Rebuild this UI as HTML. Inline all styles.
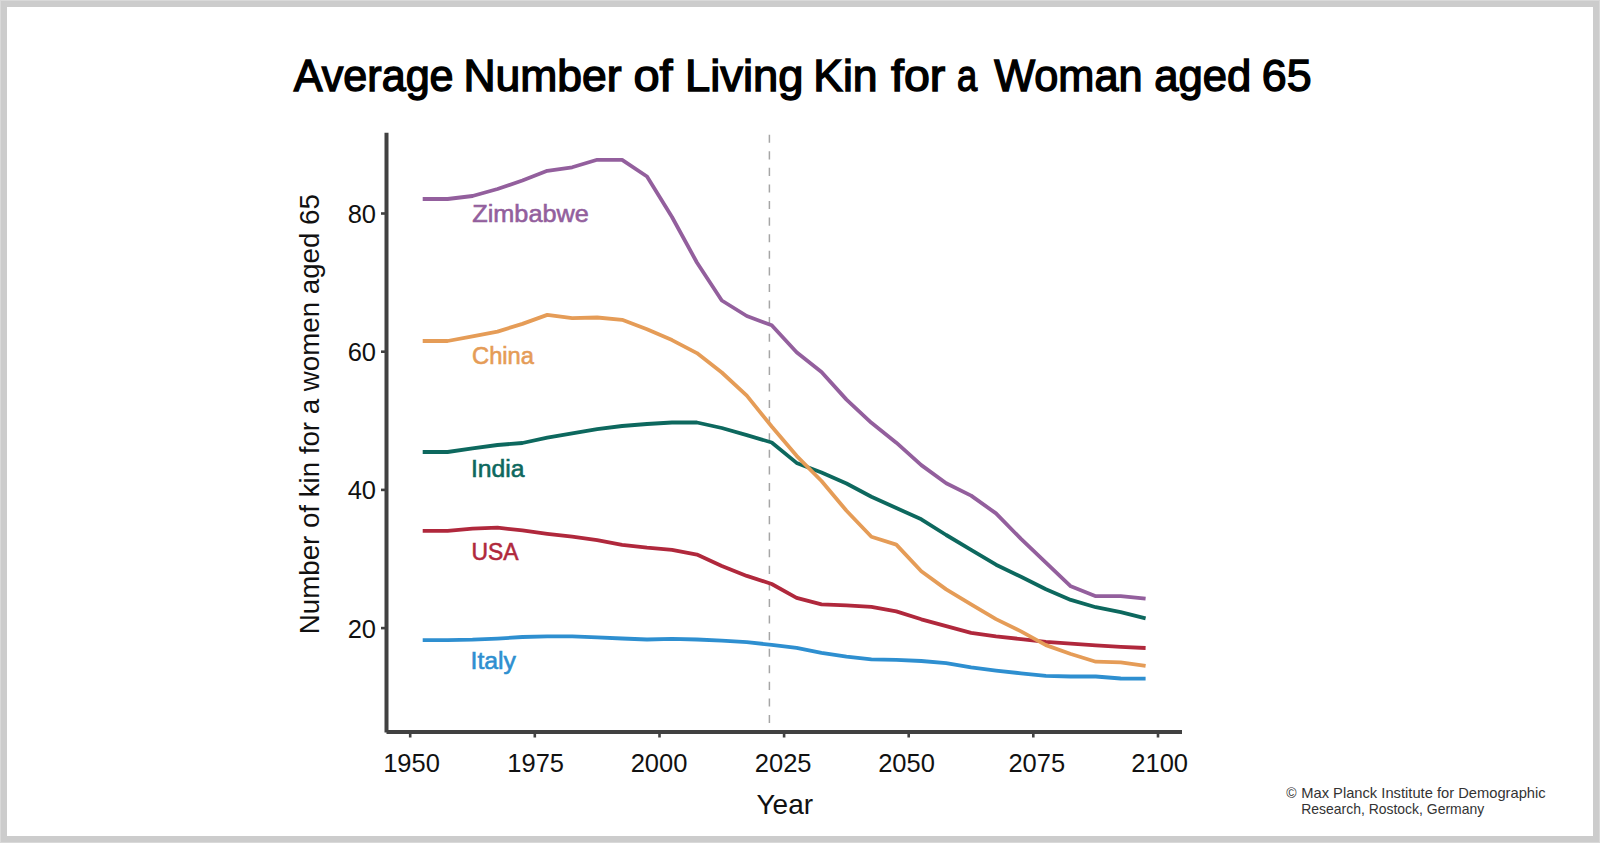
<!DOCTYPE html>
<html><head><meta charset="utf-8"><style>
html,body{margin:0;padding:0;width:1600px;height:843px;overflow:hidden;background:#cbcbcb}
svg{position:absolute;left:0;top:0;font-family:"Liberation Sans",sans-serif}
</style></head><body>
<svg width="1600" height="843" viewBox="0 0 1600 843">
<rect x="0" y="0" width="1600" height="843" fill="#cccccc"/>
<rect x="0.5" y="0.5" width="1599" height="842" fill="none" stroke="#d9d9d9" stroke-width="1"/>
<rect x="7" y="7" width="1586" height="829" fill="#ffffff"/>
<g font-size="44.3" fill="#000" stroke="#000" stroke-width="1.4"><text x="293.80" y="91" textLength="159.80" lengthAdjust="spacingAndGlyphs">Average</text><text x="463.40" y="91" textLength="158.20" lengthAdjust="spacingAndGlyphs">Number</text><text x="633.40" y="91" textLength="39.20" lengthAdjust="spacingAndGlyphs">of</text><text x="685.00" y="91" textLength="118.40" lengthAdjust="spacingAndGlyphs">Living</text><text x="813.20" y="91" textLength="64.40" lengthAdjust="spacingAndGlyphs">Kin</text><text x="891.00" y="91" textLength="54.40" lengthAdjust="spacingAndGlyphs">for</text><text x="957.00" y="91" textLength="20.20" lengthAdjust="spacingAndGlyphs">a</text><text x="994.20" y="91" textLength="148.40" lengthAdjust="spacingAndGlyphs">Woman</text><text x="1154.20" y="91" textLength="97.00" lengthAdjust="spacingAndGlyphs">aged</text><text x="1261.80" y="91" textLength="49.80" lengthAdjust="spacingAndGlyphs">65</text></g>
<line x1="769.4" y1="134.7" x2="769.4" y2="724" stroke="#a6a6a6" stroke-width="1.5" stroke-dasharray="8.1 8.48"/>
<polyline points="422.7,640.2 447.6,640.2 472.5,639.7 497.5,638.6 522.4,637.0 547.3,636.3 572.2,636.3 597.2,637.4 622.1,638.5 647.0,639.5 672.0,638.9 696.9,639.5 721.8,640.6 746.8,642.1 771.7,644.9 796.6,647.9 821.5,652.8 846.5,656.7 871.4,659.3 896.3,659.9 921.3,661.0 946.2,663.1 971.1,667.4 996.0,670.6 1021.0,673.3 1045.9,675.9 1070.8,676.5 1095.8,676.5 1120.7,678.5 1145.6,678.6" fill="none" stroke="#2e8fd0" stroke-width="3.8" stroke-linejoin="round"/>
<polyline points="422.7,530.9 447.6,530.9 472.5,528.6 497.5,527.7 522.4,530.4 547.3,533.8 572.2,536.7 597.2,540.1 622.1,544.9 647.0,547.7 672.0,549.9 696.9,554.6 721.8,565.9 746.8,575.9 771.7,584.0 796.6,597.9 821.5,604.4 846.5,605.4 871.4,606.9 896.3,611.4 921.3,619.3 946.2,626.2 971.1,632.8 996.0,636.3 1021.0,639.1 1045.9,641.8 1070.8,643.7 1095.8,645.4 1120.7,646.9 1145.6,648.0" fill="none" stroke="#b0283c" stroke-width="3.8" stroke-linejoin="round"/>
<polyline points="422.7,452.0 447.6,452.0 472.5,448.3 497.5,445.0 522.4,443.0 547.3,437.6 572.2,433.4 597.2,429.1 622.1,426.0 647.0,424.0 672.0,422.5 696.9,422.5 721.8,428.0 746.8,435.1 771.7,442.5 796.6,462.9 821.5,472.5 846.5,483.5 871.4,496.7 896.3,508.0 921.3,519.3 946.2,535.0 971.1,549.9 996.0,564.7 1021.0,576.8 1045.9,589.2 1070.8,599.9 1095.8,607.2 1120.7,612.2 1145.6,618.3" fill="none" stroke="#0d685e" stroke-width="3.8" stroke-linejoin="round"/>
<polyline points="422.7,341.0 447.6,341.0 472.5,336.3 497.5,331.6 522.4,323.9 547.3,314.9 572.2,318.1 597.2,317.5 622.1,319.8 647.0,329.3 672.0,340.1 696.9,353.1 721.8,372.5 746.8,395.6 771.7,426.5 796.6,455.8 821.5,481.0 846.5,510.8 871.4,536.7 896.3,544.6 921.3,571.3 946.2,589.4 971.1,604.4 996.0,619.1 1021.0,631.4 1045.9,645.1 1070.8,654.0 1095.8,661.7 1120.7,662.3 1145.6,665.8" fill="none" stroke="#e59c57" stroke-width="3.8" stroke-linejoin="round"/>
<polyline points="422.7,199.0 447.6,199.0 472.5,196.0 497.5,189.0 522.4,180.5 547.3,170.8 572.2,167.3 597.2,159.8 622.1,159.8 647.0,176.5 672.0,217.0 696.9,262.5 721.8,300.5 746.8,316.0 771.7,325.3 796.6,352.2 821.5,372.0 846.5,399.6 871.4,422.8 896.3,442.7 921.3,465.1 946.2,483.2 971.1,495.6 996.0,513.4 1021.0,538.9 1045.9,562.6 1070.8,586.3 1095.8,596.2 1120.7,596.2 1145.6,598.7" fill="none" stroke="#935f9d" stroke-width="3.8" stroke-linejoin="round"/>
<line x1="386.5" y1="132.8" x2="386.5" y2="732.5" stroke="#414141" stroke-width="4"/>
<line x1="386.5" y1="732" x2="1182" y2="732" stroke="#414141" stroke-width="4"/>
<line x1="410.2" y1="732" x2="410.2" y2="737.5" stroke="#414141" stroke-width="2.6"/><line x1="534.8" y1="732" x2="534.8" y2="737.5" stroke="#414141" stroke-width="2.6"/><line x1="659.5" y1="732" x2="659.5" y2="737.5" stroke="#414141" stroke-width="2.6"/><line x1="784.1" y1="732" x2="784.1" y2="737.5" stroke="#414141" stroke-width="2.6"/><line x1="908.7" y1="732" x2="908.7" y2="737.5" stroke="#414141" stroke-width="2.6"/><line x1="1033.3" y1="732" x2="1033.3" y2="737.5" stroke="#414141" stroke-width="2.6"/><line x1="1158.0" y1="732" x2="1158.0" y2="737.5" stroke="#414141" stroke-width="2.6"/><line x1="381" y1="213.5" x2="386" y2="213.5" stroke="#414141" stroke-width="2.6"/><line x1="381" y1="351.7" x2="386" y2="351.7" stroke="#414141" stroke-width="2.6"/><line x1="381" y1="489.9" x2="386" y2="489.9" stroke="#414141" stroke-width="2.6"/><line x1="381" y1="628.1" x2="386" y2="628.1" stroke="#414141" stroke-width="2.6"/>
<g font-size="25.5" fill="#111"><text x="411.5" y="771.9" text-anchor="middle">1950</text><text x="535.7" y="771.9" text-anchor="middle">1975</text><text x="659.0" y="771.9" text-anchor="middle">2000</text><text x="783.2" y="771.9" text-anchor="middle">2025</text><text x="906.5" y="771.9" text-anchor="middle">2050</text><text x="1036.8" y="771.9" text-anchor="middle">2075</text><text x="1159.7" y="771.9" text-anchor="middle">2100</text><text x="376" y="222.9" text-anchor="end">80</text><text x="376" y="361.1" text-anchor="end">60</text><text x="376" y="499.3" text-anchor="end">40</text><text x="376" y="637.5" text-anchor="end">20</text></g>
<text x="784.8" y="814.4" font-size="28" text-anchor="middle" fill="#111">Year</text>
<text transform="translate(318.5,414.2) rotate(-90)" x="0" y="0" font-size="28" text-anchor="middle" fill="#111" textLength="440" lengthAdjust="spacingAndGlyphs">Number of kin for a women aged 65</text>
<g font-size="24.6" stroke-width="0.6">
<text x="472.3" y="222" fill="#935f9d" stroke="#935f9d" textLength="116.5" lengthAdjust="spacingAndGlyphs">Zimbabwe</text>
<text x="472" y="364.4" fill="#e59c57" stroke="#e59c57" textLength="62" lengthAdjust="spacingAndGlyphs">China</text>
<text x="471" y="476.6" fill="#0d685e" stroke="#0d685e" textLength="53.5" lengthAdjust="spacingAndGlyphs">India</text>
<text x="471.5" y="559.9" fill="#b0283c" stroke="#b0283c" textLength="47" lengthAdjust="spacingAndGlyphs">USA</text>
<text x="470.5" y="668.9" fill="#2e8fd0" stroke="#2e8fd0" textLength="45.5" lengthAdjust="spacingAndGlyphs">Italy</text>
</g>
<g font-size="15" fill="#333">
<text x="1286.3" y="798.1" font-size="14">©</text>
<text x="1301.2" y="798.1" textLength="244.5" lengthAdjust="spacingAndGlyphs">Max Planck Institute for Demographic</text>
<text x="1301.2" y="814" textLength="183" lengthAdjust="spacingAndGlyphs">Research, Rostock, Germany</text>
</g>
</svg>
</body></html>
